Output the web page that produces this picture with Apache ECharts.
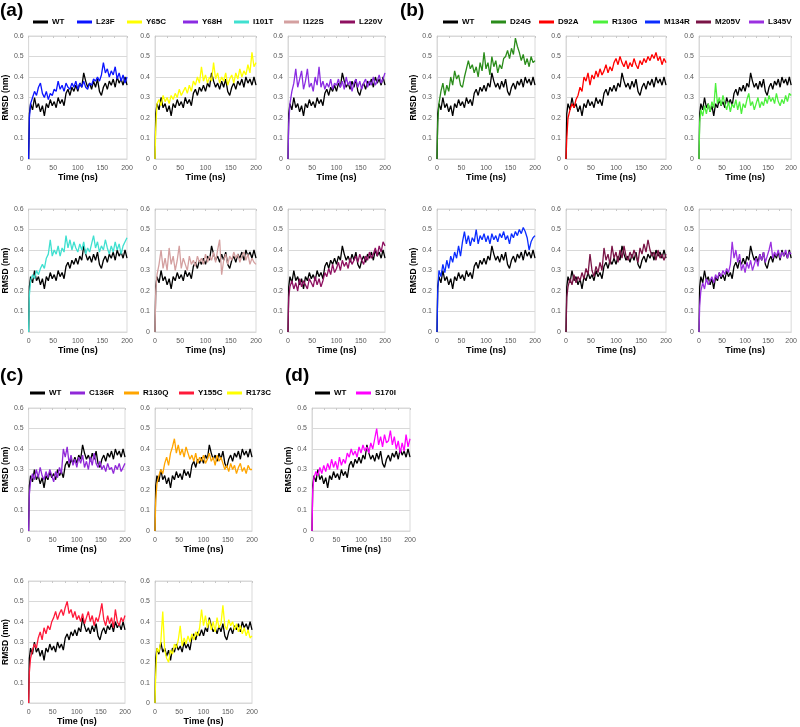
<!DOCTYPE html>
<html><head><meta charset="utf-8">
<script src="https://cdn.jsdelivr.net/npm/echarts@6/dist/echarts.min.js"></script>
<style>html,body{margin:0;padding:0;background:#fff}#c{width:800px;height:727px}</style>
</head><body><div id="c"></div>
<script>
// Time points (ns)
const TIME = [0,1.5,4,8,12,16,20,24,28,32,36,40,44,48,52,56,60,64,68,72,76,80,84,88,92,96,100,104,108,112,116,120,124,128,132,136,140,144,148,152,156,160,164,168,172,176,180,184,188,192,196,200];
const X_TICKS = [0,50,100,150,200];
const Y_TICKS = [0,0.1,0.2,0.3,0.4,0.5,0.6];

// RMSD (nm)
const WT    = [0,0.22,0.27,0.24,0.30,0.25,0.27,0.23,0.26,0.21,0.27,0.25,0.29,0.26,0.28,0.25,0.30,0.27,0.29,0.26,0.32,0.34,0.31,0.35,0.33,0.36,0.33,0.37,0.35,0.42,0.38,0.35,0.37,0.34,0.38,0.35,0.39,0.33,0.31,0.35,0.37,0.34,0.38,0.36,0.39,0.35,0.40,0.37,0.39,0.36,0.40,0.36];
const L23F  = [0,0.20,0.27,0.30,0.33,0.31,0.35,0.37,0.32,0.30,0.33,0.29,0.32,0.31,0.34,0.33,0.38,0.34,0.36,0.33,0.37,0.35,0.34,0.37,0.35,0.38,0.34,0.37,0.35,0.38,0.35,0.34,0.37,0.36,0.39,0.38,0.40,0.38,0.41,0.47,0.42,0.44,0.40,0.43,0.41,0.45,0.39,0.42,0.38,0.41,0.37,0.40];
const Y65C  = [0,0.15,0.27,0.29,0.26,0.31,0.28,0.30,0.27,0.31,0.29,0.32,0.30,0.34,0.31,0.33,0.35,0.32,0.36,0.33,0.38,0.36,0.40,0.37,0.45,0.38,0.41,0.37,0.40,0.38,0.47,0.39,0.42,0.37,0.40,0.38,0.42,0.36,0.39,0.41,0.37,0.42,0.39,0.44,0.40,0.43,0.41,0.46,0.42,0.52,0.45,0.47];
const Y68H  = [0,0.17,0.27,0.33,0.37,0.44,0.35,0.39,0.43,0.34,0.38,0.44,0.35,0.37,0.33,0.40,0.36,0.45,0.35,0.38,0.34,0.37,0.35,0.39,0.34,0.37,0.36,0.39,0.35,0.38,0.34,0.40,0.36,0.38,0.33,0.37,0.39,0.35,0.38,0.34,0.37,0.39,0.35,0.38,0.36,0.40,0.36,0.38,0.41,0.37,0.39,0.42];
const I101T = [0,0.18,0.25,0.28,0.26,0.30,0.28,0.31,0.33,0.31,0.36,0.38,0.45,0.37,0.40,0.38,0.42,0.37,0.41,0.39,0.47,0.41,0.45,0.40,0.44,0.41,0.39,0.43,0.40,0.44,0.38,0.41,0.39,0.43,0.47,0.41,0.44,0.39,0.42,0.40,0.45,0.41,0.38,0.42,0.39,0.44,0.40,0.43,0.38,0.42,0.44,0.46];
const I122S = [0,0.20,0.28,0.33,0.40,0.31,0.36,0.30,0.41,0.33,0.37,0.30,0.35,0.42,0.31,0.36,0.33,0.30,0.37,0.33,0.35,0.32,0.37,0.34,0.36,0.33,0.38,0.34,0.37,0.35,0.39,0.34,0.40,0.45,0.28,0.35,0.38,0.33,0.37,0.35,0.39,0.36,0.38,0.34,0.37,0.39,0.35,0.38,0.33,0.36,0.34,0.33];
const L220V = [0,0.17,0.22,0.25,0.21,0.24,0.20,0.26,0.22,0.25,0.23,0.21,0.26,0.24,0.22,0.27,0.23,0.26,0.22,0.25,0.29,0.27,0.31,0.28,0.33,0.29,0.31,0.34,0.30,0.35,0.32,0.34,0.31,0.36,0.33,0.35,0.37,0.34,0.38,0.35,0.33,0.37,0.35,0.39,0.36,0.38,0.41,0.37,0.42,0.39,0.44,0.42];
const D24G  = [0,0.18,0.27,0.33,0.37,0.31,0.36,0.33,0.40,0.36,0.43,0.39,0.41,0.36,0.35,0.40,0.44,0.48,0.44,0.46,0.42,0.45,0.40,0.47,0.43,0.52,0.44,0.47,0.41,0.50,0.45,0.48,0.42,0.46,0.44,0.49,0.50,0.53,0.49,0.54,0.51,0.59,0.55,0.52,0.48,0.51,0.46,0.49,0.45,0.50,0.47,0.48];
const D92A  = [0,0.10,0.20,0.24,0.27,0.25,0.29,0.31,0.35,0.33,0.40,0.38,0.42,0.36,0.41,0.39,0.43,0.40,0.44,0.41,0.43,0.46,0.42,0.45,0.43,0.47,0.49,0.46,0.50,0.47,0.45,0.48,0.44,0.47,0.45,0.49,0.46,0.44,0.48,0.46,0.49,0.47,0.50,0.48,0.51,0.49,0.52,0.48,0.50,0.46,0.49,0.47];
const R130G = [0,0.18,0.24,0.21,0.26,0.22,0.27,0.23,0.28,0.25,0.37,0.27,0.30,0.26,0.31,0.27,0.24,0.28,0.23,0.27,0.25,0.29,0.24,0.28,0.22,0.27,0.25,0.29,0.32,0.26,0.28,0.24,0.27,0.30,0.25,0.28,0.26,0.30,0.27,0.31,0.28,0.30,0.27,0.32,0.28,0.26,0.29,0.27,0.31,0.28,0.32,0.31];
const M134R = [0,0.20,0.30,0.27,0.33,0.29,0.35,0.31,0.37,0.34,0.39,0.36,0.42,0.37,0.44,0.49,0.43,0.47,0.42,0.46,0.44,0.50,0.43,0.47,0.45,0.48,0.44,0.47,0.43,0.48,0.45,0.47,0.44,0.48,0.46,0.49,0.45,0.47,0.43,0.48,0.46,0.49,0.47,0.50,0.48,0.51,0.49,0.46,0.40,0.44,0.46,0.47];
const M205V = [0,0.17,0.22,0.26,0.23,0.28,0.24,0.27,0.25,0.29,0.26,0.31,0.28,0.38,0.30,0.27,0.32,0.29,0.34,0.30,0.41,0.35,0.38,0.33,0.42,0.36,0.39,0.34,0.40,0.36,0.42,0.37,0.35,0.39,0.36,0.40,0.37,0.34,0.41,0.38,0.43,0.39,0.45,0.40,0.37,0.39,0.35,0.40,0.36,0.38,0.35,0.38];
const L345V = [0,0.13,0.20,0.24,0.21,0.26,0.23,0.25,0.27,0.24,0.28,0.26,0.29,0.27,0.30,0.28,0.31,0.29,0.33,0.44,0.36,0.40,0.34,0.38,0.30,0.33,0.29,0.34,0.31,0.35,0.30,0.33,0.36,0.32,0.38,0.35,0.39,0.34,0.37,0.40,0.44,0.36,0.39,0.37,0.40,0.36,0.39,0.37,0.40,0.36,0.39,0.38];
const C136R = [0,0.18,0.24,0.28,0.25,0.30,0.26,0.31,0.27,0.25,0.29,0.26,0.30,0.27,0.24,0.29,0.26,0.31,0.28,0.40,0.36,0.41,0.33,0.37,0.32,0.35,0.31,0.36,0.33,0.37,0.31,0.34,0.30,0.36,0.32,0.38,0.33,0.31,0.34,0.30,0.32,0.29,0.33,0.30,0.31,0.28,0.32,0.30,0.33,0.29,0.31,0.33];
const R130Q = [0,0.15,0.23,0.27,0.30,0.28,0.33,0.36,0.32,0.38,0.41,0.45,0.38,0.42,0.37,0.40,0.36,0.41,0.38,0.35,0.37,0.34,0.38,0.33,0.36,0.34,0.37,0.33,0.35,0.38,0.34,0.36,0.32,0.37,0.34,0.36,0.33,0.30,0.32,0.29,0.33,0.30,0.32,0.28,0.31,0.33,0.29,0.31,0.28,0.32,0.30,0.30];
const Y155C = [0,0.15,0.22,0.26,0.29,0.27,0.32,0.35,0.31,0.37,0.34,0.38,0.36,0.40,0.42,0.45,0.41,0.44,0.46,0.43,0.47,0.50,0.44,0.46,0.42,0.45,0.41,0.43,0.40,0.44,0.39,0.42,0.45,0.40,0.43,0.38,0.42,0.40,0.44,0.49,0.41,0.38,0.43,0.39,0.42,0.37,0.46,0.40,0.38,0.42,0.40,0.43];
const R173C = [0,0.14,0.27,0.25,0.30,0.45,0.26,0.22,0.20,0.26,0.24,0.29,0.27,0.31,0.38,0.28,0.32,0.29,0.33,0.30,0.34,0.31,0.35,0.33,0.37,0.46,0.38,0.43,0.37,0.41,0.36,0.40,0.35,0.42,0.37,0.39,0.48,0.38,0.36,0.41,0.38,0.40,0.36,0.39,0.35,0.38,0.34,0.37,0.33,0.36,0.32,0.33];
const S170I = [0,0.20,0.26,0.29,0.27,0.31,0.28,0.32,0.29,0.33,0.30,0.35,0.31,0.34,0.30,0.36,0.32,0.35,0.33,0.38,0.36,0.40,0.37,0.39,0.36,0.41,0.38,0.42,0.39,0.41,0.38,0.43,0.40,0.45,0.50,0.42,0.46,0.41,0.47,0.43,0.44,0.49,0.42,0.46,0.40,0.44,0.38,0.43,0.39,0.47,0.41,0.45];

const COLORS = {
  WT:'#000000', L23F:'#0a14ff', Y65C:'#ffff00', Y68H:'#8a2be2', I101T:'#40e0d0', I122S:'#d4a0a0', L220V:'#8e1060',
  D24G:'#2a8c1a', D92A:'#ff0000', R130G:'#4cf03c', M134R:'#0a2cff', M205V:'#7a1446', L345V:'#9b30e0',
  C136R:'#9028d8', R130Q:'#ffa500', Y155C:'#ff1a3a', R173C:'#ffff00', S170I:'#ff00ff'
};

// layout of panels: [name, data, left, top, width, height, showYName]
const PANELS = [
  ['L23F', L23F, 27, 36, 100, 123, true], ['Y65C', Y65C, 155, 36, 101, 123, false], ['Y68H', Y68H, 288, 36, 97, 123, false],
  ['I101T', I101T, 27, 209, 100, 123, true], ['I122S', I122S, 155, 209, 101, 123, false], ['L220V', L220V, 288, 209, 97, 123, false],
  ['D24G', D24G, 437, 36, 98, 123, true], ['D92A', D92A, 566, 36, 100, 123, false], ['R130G', R130G, 699, 36, 98, 123, false],
  ['M134R', M134R, 437, 209, 98, 123, true], ['M205V', M205V, 566, 209, 100, 123, false], ['L345V', L345V, 699, 209, 98, 123, false],
  ['C136R', C136R, 28, 408, 97, 123, true], ['R130Q', R130Q, 155, 408, 97, 123, false],
  ['Y155C', Y155C, 28, 581, 97, 122, true], ['R173C', R173C, 155, 581, 97, 122, false],
  ['S170I', S170I, 312, 408, 98, 123, true]
];

// legends: [names, lefts, top]
const LEGENDS = [
  [['WT','L23F','Y65C','Y68H','I101T','I122S','L220V'], [33,77,127,183,234,284,340], 18],
  [['WT','D24G','D92A','R130G','M134R','M205V','L345V'], [443,491,539,593,645,696,749], 18],
  [['WT','C136R','R130Q','Y155C','R173C'], [30,70,124,179,227], 389],
  [['WT','S170I'], [315,356], 389]
];
const LABELS = [['(a)',0,1],['(b)',400,1],['(c)',0,366],['(d)',285,366]];

const FONT = 'Liberation Sans, Arial, sans-serif';
const grid=[], xAxis=[], yAxis=[], series=[], legend=[], title=[];
const GRID_C = '#d9d9d9';

PANELS.forEach((p, i) => {
  const [name, data, l, t, w, h, yName] = p;
  grid.push({left:l, top:t, width:w, height:h, show:true, borderColor:GRID_C, borderWidth:1, containLabel:false});
  xAxis.push({
    type:'value', gridIndex:i, min:X_TICKS[0], max:X_TICKS[X_TICKS.length-1], interval:X_TICKS[1]-X_TICKS[0],
    axisLine:{show:true, lineStyle:{color:GRID_C}}, axisTick:{show:false}, splitLine:{show:false},
    axisLabel:{fontSize:7, color:'#595959', margin:6, fontFamily:FONT},
    name:'Time (ns)', nameLocation:'middle', nameGap:14,
    nameTextStyle:{fontSize:9, fontWeight:'bold', color:'#000', fontFamily:FONT}
  });
  yAxis.push({
    type:'value', gridIndex:i, min:Y_TICKS[0], max:Y_TICKS[Y_TICKS.length-1], interval:Y_TICKS[1]-Y_TICKS[0],
    axisLine:{show:true, lineStyle:{color:GRID_C}}, axisTick:{show:false},
    splitLine:{show:true, lineStyle:{color:GRID_C, width:1}},
    axisLabel:{fontSize:7, color:'#595959', margin:5, fontFamily:FONT, formatter:v => v===0 ? '0' : v.toFixed(1)},
    name: yName ? 'RMSD (nm)' : '', nameLocation:'middle', nameGap:15,
    nameTextStyle:{fontSize:8.5, fontWeight:'bold', color:'#000', fontFamily:FONT}
  });
  series.push({
    type:'line', name:'WT', xAxisIndex:i, yAxisIndex:i, showSymbol:false, symbol:'none',
    data: TIME.map((x, k) => [x, WT[k]]), lineStyle:{color:COLORS.WT, width:1.3}, itemStyle:{color:COLORS.WT}, z:2
  });
  series.push({
    type:'line', name:name, xAxisIndex:i, yAxisIndex:i, showSymbol:false, symbol:'none',
    data: TIME.map((x, k) => [x, data[k]]), lineStyle:{color:COLORS[name], width:1.3}, itemStyle:{color:COLORS[name]}, z:3
  });
});

// faint minor ticks along the top border of each panel
PANELS.forEach((p, i) => {
  xAxis.push({
    type:'value', gridIndex:i, position:'top', min:X_TICKS[0], max:X_TICKS[X_TICKS.length-1], interval:(X_TICKS[1]-X_TICKS[0])/2,
    axisLine:{show:false}, axisLabel:{show:false}, splitLine:{show:false},
    axisTick:{show:true, inside:true, length:2, lineStyle:{color:'#c8c8c8'}}
  });
});

LEGENDS.forEach(([names, lefts, top]) => {
  names.forEach((n, j) => {
    legend.push({
      data:[n], left:lefts[j], top:top, padding:0, itemWidth:15, itemHeight:3, icon:'rect',
      selectedMode:false, itemGap:0,
      textStyle:{fontSize:8, fontWeight:'bold', color:'#000', fontFamily:FONT, padding:[0,0,0,-1]}
    });
  });
});

LABELS.forEach(([txt, l, t]) => {
  title.push({text:txt, left:l, top:t, padding:0, textStyle:{fontSize:19, fontWeight:'bold', color:'#000', fontFamily:FONT}});
});

const chart = echarts.init(document.getElementById('c'), null, {renderer:'canvas'});
chart.setOption({animation:false, backgroundColor:'#fff', title, legend, grid, xAxis, yAxis, series});
</script></body></html>
